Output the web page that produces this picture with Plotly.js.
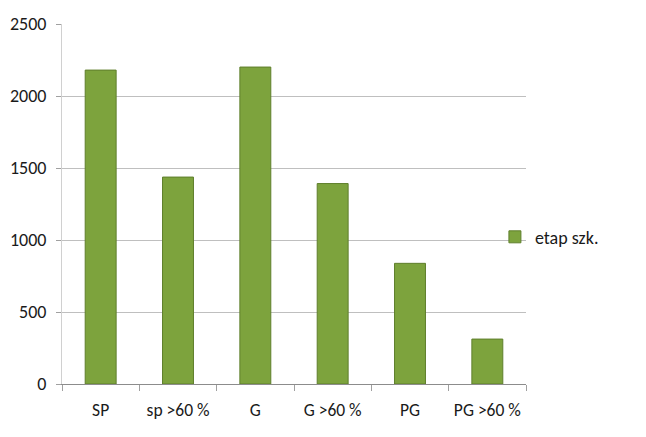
<!DOCTYPE html>
<html>
<head>
<meta charset="utf-8">
<script src="https://cdn.plot.ly/plotly-3.0.1.min.js"></script>
<style>html,body{margin:0;padding:0;background:#fff;}#chart{width:646px;height:437px;}</style>
</head>
<body>
<div id="chart"></div>
<script>
var categories = ["SP", "sp >60 %", "G", "G >60 %", "PG", "PG >60 %"];
var values = [2180, 1437, 2201, 1392, 838, 312];
var seriesName = "etap szk.";
var yTicks = [0, 500, 1000, 1500, 2000, 2500];

var font = "Carlito, 'Liberation Sans', Arial, sans-serif";

var trace = {
  type: "bar",
  x: categories,
  y: values,
  name: seriesName,
  showlegend: true,
  width: 0.4,
  marker: {color: "#7da33d", line: {color: "#5f7f2c", width: 1}}
};

var layout = {
  width: 646, height: 437,
  margin: {l: 62, r: 120, t: 24, b: 53},
  paper_bgcolor: "#fff", plot_bgcolor: "#fff",
  font: {family: font, size: 18, color: "#1a1a1a"},
  showlegend: true,
  legend: {x: 0.933, y: 0.408, xanchor: "left", yanchor: "middle", itemwidth: 30,
           font: {family: font, size: 18, color: "#1a1a1a"}, bgcolor: "rgba(0,0,0,0)"},
  xaxis: {type: "category", showgrid: false, showline: true, linecolor: "#8c8c8c", linewidth: 1,
          ticks: "outside", tickson: "boundaries", ticklen: 6, tickcolor: "#a0a0a0",
          ticklabelstandoff: 10, tickangle: 0,
          tickfont: {family: font, size: 17.5, color: "#1a1a1a"}, fixedrange: true},
  yaxis: {range: [0, 2500], tickvals: yTicks, showgrid: true, gridcolor: "#bfbfbf", gridwidth: 1,
          showline: true, linecolor: "#d0d0d0", linewidth: 1, zeroline: false,
          ticks: "outside", ticklen: 5, tickcolor: "#a0a0a0", ticklabelstandoff: 6,
          tickfont: {family: font, size: 18, color: "#1a1a1a"}, fixedrange: true}
};

Plotly.newPlot("chart", [trace], layout, {displayModeBar: false, staticPlot: true});
</script>
</body>
</html>
